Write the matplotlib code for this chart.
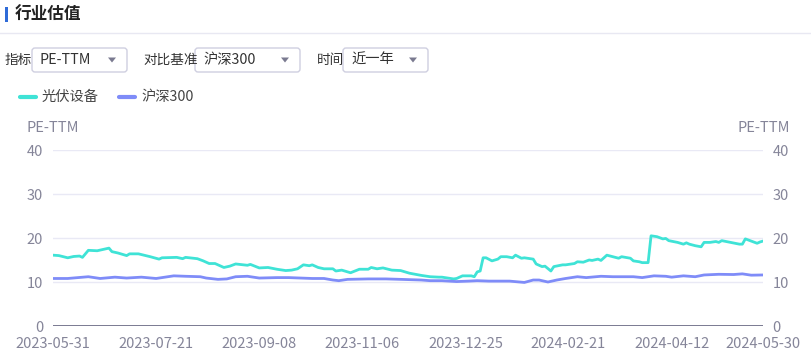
import matplotlib
matplotlib.use("Agg")
import matplotlib.pyplot as plt
from matplotlib.patches import FancyBboxPatch, Rectangle, Polygon
import pandas as pd

plt.rcParams['font.family'] = ['Noto Sans CJK SC', 'DejaVu Sans']

# ---- data ----
start_date = "2023-05-31"
end_date = "2024-05-30"
holidays = ["2023-06-22", "2023-06-23", "2023-09-29", "2023-10-02", "2023-10-03",
            "2023-10-04", "2023-10-05", "2023-10-06", "2024-01-01", "2024-02-09",
            "2024-02-12", "2024-02-13", "2024-02-14", "2024-02-15", "2024-02-16",
            "2024-04-04", "2024-04-05", "2024-05-01", "2024-05-02", "2024-05-03"]
tick_labels = ["2023-05-31", "2023-07-21", "2023-09-08", "2023-11-06",
               "2023-12-25", "2024-02-21", "2024-04-12", "2024-05-30"]

series_names = ["光伏设备", "沪深300"]

pv_idx = [0, 2, 5, 7, 9, 10, 12, 15, 19, 20, 22, 25, 26, 29, 33, 36, 37, 42, 44, 45,
          49, 51, 53, 55, 58, 60, 62, 66, 67, 70, 73, 76, 79, 81, 83, 85, 87, 88, 90, 92,
          95, 96, 98, 100, 101, 104, 107, 108, 110, 112, 115, 118, 121, 125, 128, 131,
          132, 136, 137, 139, 142, 143, 144, 145, 146, 147, 149, 151, 152, 154, 156, 157,
          159, 160, 163, 164, 166, 167, 169, 170, 173, 174, 177, 178, 180, 182, 183, 185,
          186, 188, 190, 192, 193, 196, 197, 199, 200, 202, 203, 205, 207, 208, 209, 212,
          214, 215, 216, 218, 220, 221, 223, 225, 226, 227, 230, 233, 234, 235, 237, 239,
          240, 241]
pv_val = [16.1, 16.0, 15.5, 15.8, 15.9, 15.6, 17.2, 17.1, 17.7, 16.9, 16.6, 16.0, 16.4,
          16.4, 15.75, 15.2, 15.5, 15.6, 15.3, 15.6, 15.3, 14.8, 14.2, 14.2, 13.3, 13.6,
          14.1, 13.8, 14.0, 13.2, 13.3, 12.9, 12.6, 12.7, 13.0, 13.9, 13.7, 13.9, 13.3,
          13.0, 13.0, 12.5, 12.7, 12.3, 12.1, 12.9, 12.9, 13.3, 13.0, 13.2, 12.7, 12.6,
          12.0, 11.5, 11.2, 11.1, 11.1, 10.7, 10.8, 11.4, 11.4, 11.2, 12.3, 12.5, 15.5,
          15.5, 14.8, 15.2, 15.75, 15.75, 15.5, 16.1, 15.4, 15.5, 15.2, 14.1, 13.5, 13.6,
          12.5, 13.5, 13.9, 13.9, 14.2, 14.6, 14.5, 15.0, 14.9, 15.2, 14.9, 16.1, 15.75,
          15.4, 15.75, 15.4, 14.8, 14.6, 14.4, 14.4, 20.5, 20.3, 19.8, 19.9, 19.4, 19.0,
          18.6, 18.9, 18.6, 18.25, 18.0, 19.0, 19.0, 19.2, 19.0, 19.4, 19.0, 18.6, 18.6,
          19.8, 19.3, 18.8, 19.1, 19.3]

hs_idx = [0, 5, 12, 16, 21, 25, 30, 35, 41, 45, 50, 52, 56, 59, 62, 66, 70, 76, 80, 88,
          92, 95, 97, 100, 107, 113, 118, 125, 128, 132, 137, 141, 144, 148, 155, 160, 163,
          165, 168, 171, 174, 178, 181, 186, 190, 197, 200, 204, 208, 210, 214, 218, 221,
          226, 231, 234, 237, 241]
hs_val = [10.8, 10.8, 11.2, 10.8, 11.1, 10.9, 11.1, 10.8, 11.4, 11.3, 11.2, 10.9, 10.6,
          10.7, 11.2, 11.3, 10.9, 11.0, 11.0, 10.8, 10.8, 10.45, 10.3, 10.6, 10.7, 10.7,
          10.6, 10.45, 10.3, 10.3, 10.1, 10.2, 10.3, 10.2, 10.2, 9.9, 10.45, 10.45, 10.0,
          10.45, 10.8, 11.2, 11.0, 11.3, 11.2, 11.2, 11.0, 11.4, 11.3, 11.1, 11.4, 11.2,
          11.6, 11.75, 11.7, 11.85, 11.55, 11.6]

y_ticks = [0, 10, 20, 30, 40]

# ---- calendar (category axis of trading days) ----
days = pd.bdate_range(start_date, end_date)
days = days[~days.isin(pd.to_datetime(holidays))]
day_str = [d.strftime("%Y-%m-%d") for d in days]
tick_pos = [day_str.index(t) for t in tick_labels]

W, H = 812, 358
fig = plt.figure(figsize=(W / 100, H / 100), dpi=100)

# overlay for page furniture (pixel coordinates)
ov = fig.add_axes([0, 0, 1, 1])
ov.set_xlim(0, W)
ov.set_ylim(H, 0)
ov.axis("off")

TXT = "#333333"
ov.add_patch(Rectangle((5, 7), 3, 15, color="#2f6bd8", lw=0))
ov.text(15, 15, "行业估值", fontsize=12, fontweight="bold", color="#222222", va="center")
ov.plot([0, W], [32.5, 32.5], color="#e8e8f2", lw=1)

def dropdown(label, lx, x0, x1, value):
    ov.text(lx, 60, label, fontsize=9.8, color=TXT, va="center")
    ov.add_patch(FancyBboxPatch((x0, 48), x1 - x0, 24, boxstyle="round,pad=0,rounding_size=3",
                                fc="white", ec="#cfcfe0", lw=1))
    ov.text(x0 + 8, 60, value, fontsize=10.3, color=TXT, va="center")
    ax_ = x1 - 15
    ov.add_patch(Polygon([[ax_ - 4, 57.5], [ax_ + 4, 57.5], [ax_, 62.5]], closed=True,
                         color="#7a7a90", lw=0))

dropdown("指标", 5, 32, 127, "PE-TTM")
dropdown("对比基准", 143, 195, 300, "沪深300")
dropdown("时间", 317, 343, 428, "近一年")

# legend
C_PV = "#3fe3d6"
C_HS = "#7f8cf8"
ov.plot([20, 36], [97, 97], color=C_PV, lw=3, solid_capstyle="round")
ov.text(42, 97, series_names[0], fontsize=10.3, color="#444444", va="center")
ov.plot([119, 135], [97, 97], color=C_HS, lw=3, solid_capstyle="round")
ov.text(141, 97, series_names[1], fontsize=10.3, color="#444444", va="center")

AX = "#858599"
ov.text(27, 128, "PE-TTM", fontsize=10.5, color=AX, va="center", ha="left")
ov.text(790, 128, "PE-TTM", fontsize=10.5, color=AX, va="center", ha="right")

# ---- main axes ----
ax = fig.add_axes([53 / W, 32 / H, 710 / W, 176 / H])
ax.set_xlim(0, len(days) - 1)
ax.set_ylim(0, 40)
ax.set_facecolor("none")
for s in ax.spines.values():
    s.set_visible(False)
ax.set_yticks(y_ticks)
ax.yaxis.grid(True, color="#e9e9f5", lw=1)
ax.set_axisbelow(True)
ax.tick_params(axis="y", length=0, labelsize=10.5, labelcolor=AX, pad=7)
ax.set_xticks(tick_pos)
ax.set_xticklabels(tick_labels)
ax.tick_params(axis="x", length=0, labelsize=10.5, labelcolor=AX, pad=8)
ax.axhline(0, color="#6e6e88", lw=2, zorder=3)

ax.plot(pv_idx, pv_val, color=C_PV, lw=2, zorder=4)
ax.plot(hs_idx, hs_val, color=C_HS, lw=2, zorder=4)

ax2 = ax.twinx()
ax2.set_ylim(0, 40)
ax2.set_yticks(y_ticks)
for s in ax2.spines.values():
    s.set_visible(False)
ax2.tick_params(axis="y", length=0, labelsize=10.5, labelcolor=AX, pad=7)

fig.savefig("out.png", dpi=100)
